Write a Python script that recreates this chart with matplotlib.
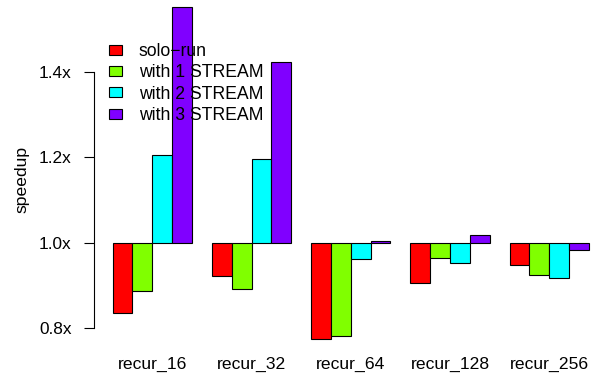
import matplotlib.pyplot as plt
import numpy as np
from matplotlib.patches import Patch

plt.rcParams['font.family'] = ['Liberation Sans', 'DejaVu Sans']

benchmarks = ["recur_16", "recur_32", "recur_64", "recur_128", "recur_256"]
series = ["solo\u2212run", "with 1 STREAM", "with 2 STREAM", "with 3 STREAM"]
colors = ["#FF0000", "#80FF00", "#00FFFF", "#8000FF"]

solo_run = [0.836, 0.923, 0.775, 0.907, 0.948]
with_1_stream = [0.888, 0.893, 0.782, 0.965, 0.924]
with_2_stream = [1.206, 1.196, 0.962, 0.953, 0.917]
with_3_stream = [1.553, 1.423, 1.004, 1.019, 0.983]
speedups = [solo_run, with_1_stream, with_2_stream, with_3_stream]

W, H = 599, 373
fig = plt.figure(figsize=(W / 100, H / 100), dpi=100)

# plot region in pixels (left edge, bottom edge), right side runs past the figure
left_px, right_px, bottom_px = 93.6, 608.0, 350.0
ax = fig.add_axes([left_px / W, (H - bottom_px) / H,
                   (right_px - left_px) / W, bottom_px / H])

# barplot-like layout: unit-width bars, one unit gap before each group
n_series = len(series)
group_starts = 1 + np.arange(len(benchmarks)) * (n_series + 1)
for i, (vals, col) in enumerate(zip(speedups, colors)):
    x = group_starts + i
    v = np.array(vals)
    ax.bar(x, v - 1.0, bottom=1.0, width=1.0, align="edge",
           color=col, edgecolor="black", linewidth=0.8)

ax.set_xlim(0.04, 25.96)
ax.set_ylim(0.7497, 1.5684)

for s in ["top", "right", "bottom"]:
    ax.spines[s].set_visible(False)
ax.spines["left"].set_bounds(0.8, 1.4)
ax.spines["left"].set_linewidth(0.8)

yt = [0.8, 1.0, 1.2, 1.4]
ax.set_yticks(yt)
ax.set_yticklabels([f"{t:.1f}x" for t in yt], fontsize=12.4)
ax.tick_params(axis="y", length=7.2, width=0.8, pad=8.6)

ax.set_xticks(group_starts + n_series / 2)
ax.set_xticklabels(benchmarks, fontsize=12.6)
ax.tick_params(axis="x", length=0, pad=5.0)

fig.text(21.5 / W, 1 - 179 / H, "speedup", rotation=90,
         ha="center", va="center", fontsize=12.6)

handles = [Patch(facecolor=c, edgecolor="black", linewidth=0.8) for c in colors]
ax.legend(handles, series, loc="upper left",
          bbox_to_anchor=(109 / W, 1 - 43 / H), bbox_transform=fig.transFigure,
          frameon=False, fontsize=12.7, handlelength=0.76, handleheight=0.51,
          handletextpad=0.92, labelspacing=0.245, borderpad=0, borderaxespad=0)

fig.savefig("out.png", dpi=100)
